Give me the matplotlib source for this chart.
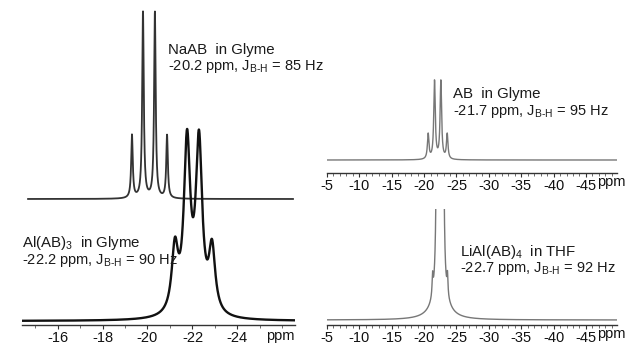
import numpy as np
import matplotlib
matplotlib.use("Agg")
import matplotlib.pyplot as plt
from matplotlib.ticker import MultipleLocator, FuncFormatter

plt.rcParams['font.family'] = ['Liberation Sans', 'DejaVu Sans']
plt.rcParams['mathtext.fontset'] = 'custom'
plt.rcParams['mathtext.rm'] = 'Liberation Sans'
plt.rcParams['mathtext.it'] = 'Liberation Sans'

W, H = 634, 345

# line lists: centre (ppm), amplitude (a.u.), half width (ppm)
naab_ppm = [-19.31, -19.80, -20.33, -20.87]
naab_amp = [63, 186, 186, 63]
naab_wid = [0.042, 0.042, 0.042, 0.042]
naab_offset = 122

alab_ppm = [-21.22, -21.76, -22.29, -22.87]
alab_amp = [64, 169, 169, 64]
alab_wid = [0.17, 0.17, 0.17, 0.17]

ab_ppm = [-20.63, -21.61, -22.59, -23.57]
ab_amp = [25, 78, 78, 25]
ab_wid = [0.14, 0.14, 0.14, 0.14]

lial_ppm = [-21.31, -22.08, -22.85, -23.61, -22.46]
lial_amp = [20, 880, 880, 20, 27]
lial_wid = [0.09, 0.09, 0.09, 0.09, 1.2]

texts = {
    'naab': ("NaAB  in Glyme", "-20.2 ppm, $\\mathregular{J_{B\u2010H}}$ = 85 Hz"),
    'alab': ("Al(AB)$\\mathregular{_3}$  in Glyme", "-22.2 ppm, $\\mathregular{J_{B\u2010H}}$ = 90 Hz"),
    'ab': ("AB  in Glyme", "-21.7 ppm, $\\mathregular{J_{B\u2010H}}$ = 95 Hz"),
    'lial': ("LiAl(AB)$\\mathregular{_4}$  in THF", "-22.7 ppm, $\\mathregular{J_{B\u2010H}}$ = 92 Hz"),
}


def spectrum(x, centres, amps, widths):
    y = np.zeros_like(x)
    for c, a, w in zip(centres, amps, widths):
        y += a / (1 + ((x - c) / w) ** 2)
    return y


def px_rect(x0, y0, x1, y1):
    return [x0 / W, 1 - y1 / H, (x1 - x0) / W, (y1 - y0) / H]


def style_axis(ax, major, minor):
    for s in ['left', 'right', 'top']:
        ax.spines[s].set_visible(False)
    ax.spines['bottom'].set_color('#333333')
    ax.spines['bottom'].set_linewidth(1.0)
    ax.set_yticks([])
    ax.xaxis.set_major_locator(MultipleLocator(major))
    ax.xaxis.set_minor_locator(MultipleLocator(minor))
    ax.tick_params(axis='x', which='major', length=3, width=0.8, color='#333333',
                   pad=1.5, labelsize=10.5, labelcolor='#111111')
    ax.tick_params(axis='x', which='minor', length=2, width=0.6, color='#555555')
    ax.xaxis.set_major_formatter(FuncFormatter(lambda v, p: f"{v:.0f}"))
    ax.patch.set_alpha(0)


fig = plt.figure(figsize=(W / 100, H / 100), dpi=100)

# left panel
axl = fig.add_axes(px_rect(22, 0, 295, 325))
style_axis(axl, 2, 1)
xl = np.linspace(-14.42, -26.56, 4000)
xn = np.linspace(-14.69, -26.47, 4000)
axl.plot(xn, spectrum(xn, naab_ppm, naab_amp, naab_wid) + naab_offset, color='#333333', lw=1.3)
axl.plot(xl, spectrum(xl, alab_ppm, alab_amp, alab_wid), color='#111111', lw=1.7)
axl.set_xticks([-16, -18, -20, -22, -24])
axl.set_xlim(-14.42, -26.56)
axl.set_ylim(-4, 321)

# right top
xr = np.linspace(-5.1, -49.7, 6000)
axt = fig.add_axes(px_rect(327, 50, 617, 173))
style_axis(axt, 5, 1)
axt.plot(xr, spectrum(xr, ab_ppm, ab_amp, ab_wid), color='#777777', lw=1.0)
axt.set_xticks(np.arange(-5, -46, -5))
axt.set_xlim(-5, -49.8)
axt.set_ylim(-13, 110)

# right bottom
axb = fig.add_axes(px_rect(327, 209, 617, 325))
style_axis(axb, 5, 1)
axb.plot(xr, spectrum(xr, lial_ppm, lial_amp, lial_wid), color='#777777', lw=1.0)
axb.set_xticks(np.arange(-5, -46, -5))
axb.set_xlim(-5, -49.8)
axb.set_ylim(-5, 111)

# ppm unit labels
for x, y in [(280, 336), (611, 182), (611, 334)]:
    fig.text(x / W, 1 - y / H, "ppm", ha='center', va='center', fontsize=10.5, color='#111111')

tc = '#1a1a1a'
for key, (x, y1, y2) in {'naab': (168, 54, 70), 'alab': (22, 247, 264),
                         'ab': (453, 98, 115), 'lial': (460, 256, 272)}.items():
    l1, l2 = texts[key]
    fig.text(x / W, 1 - y1 / H, l1, ha='left', va='baseline', fontsize=10.8, color=tc)
    fig.text(x / W, 1 - y2 / H, l2, ha='left', va='baseline', fontsize=10.5, color=tc)

fig.savefig("out.png", dpi=100)
